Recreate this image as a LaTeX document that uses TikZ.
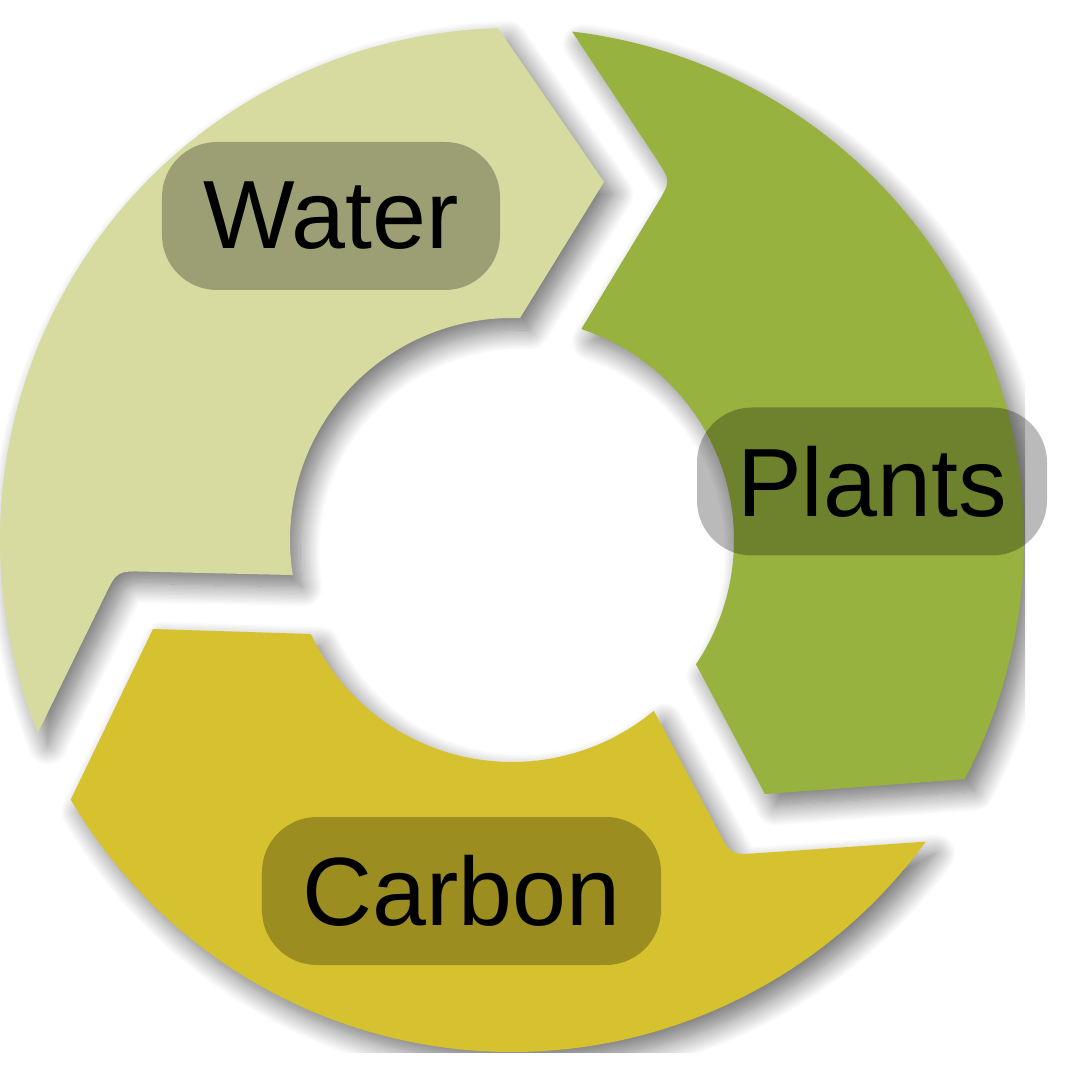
\documentclass[tikz,border=0pt]{standalone}
\usepackage{fontspec}
\setmainfont{Liberation Sans}
\usepackage{tikz}
\usetikzlibrary{calc, shadows.blur}
\definecolor{waterc}{RGB}{215,219,160}
\definecolor{plantc}{RGB}{151,178,62}
\definecolor{carbonc}{RGB}{214,194,46}
\tikzstyle{seg}=[blur shadow={shadow xshift=1mm, shadow yshift=-1.2mm,
  shadow blur radius=2mm, shadow blur steps=16, shadow opacity=55}]
\tikzstyle{lbox}=[rectangle, rounded corners=0.55cm, fill=black,
  fill opacity=0.27, text opacity=1, text=black, inner sep=0pt,
  minimum height=1.48cm, font=\fontsize{27.6pt}{33pt}\selectfont]

\begin{document}
\begin{tikzpicture}
  \useasboundingbox (-5.12,-5.40) rectangle (5.68,5.40);
  % notch corners of the three tails
  \coordinate (wn) at (-3.95,-0.31);
  \coordinate (pn) at (1.59,3.59);
  \coordinate (cn) at (2.19,-3.15);
  \begin{scope}
    \clip (-5.12,-5.12) rectangle (5.13,5.40);
    % Water
    \fill[seg, waterc] (91.57:5.12) -- (0.92,3.58) -- (87.95:2.22)
      arc[start angle=87.95, end angle=189.08, radius=2.22]
      -- ($(wn)!0.28cm!(189.08:2.22)$) .. controls (wn) .. ($(wn)!0.28cm!(202.15:5.12)$)
      -- (202.15:5.12) arc[start angle=202.15, end angle=91.57, radius=5.12] -- cycle;
    % Plants
    \fill[seg, plantc] (-27.86:5.12) -- (2.53,-2.54) -- (-34.04:2.22)
      arc[start angle=-34.04, end angle=71.81, radius=2.22]
      -- ($(pn)!0.28cm!(71.81:2.22)$) .. controls (pn) .. ($(pn)!0.28cm!(83.26:5.12)$)
      -- (83.26:5.12) arc[start angle=83.26, end angle=-27.86, radius=5.12] -- cycle;
    % Carbon
    \fill[seg, carbonc] (210.47:5.12) -- (-3.59,-0.89) -- (205.06:2.22)
      arc[start angle=205.06, end angle=309.7, radius=2.22]
      -- ($(cn)!0.28cm!(309.7:2.22)$) .. controls (cn) .. ($(cn)!0.28cm!(323.9:5.12)$)
      -- (323.9:5.12) arc[start angle=323.9, end angle=210.47, radius=5.12] -- cycle;
  \end{scope}
  \node[lbox, minimum width=3.38cm] (water) at (-1.81,3.24) {Water};
  \node[lbox, minimum width=3.50cm] (plants) at (3.60,0.585) {Plants};
  \node[lbox, minimum width=3.99cm] (carbon) at (-0.505,-3.51) {Carbon};
\end{tikzpicture}
\end{document}
